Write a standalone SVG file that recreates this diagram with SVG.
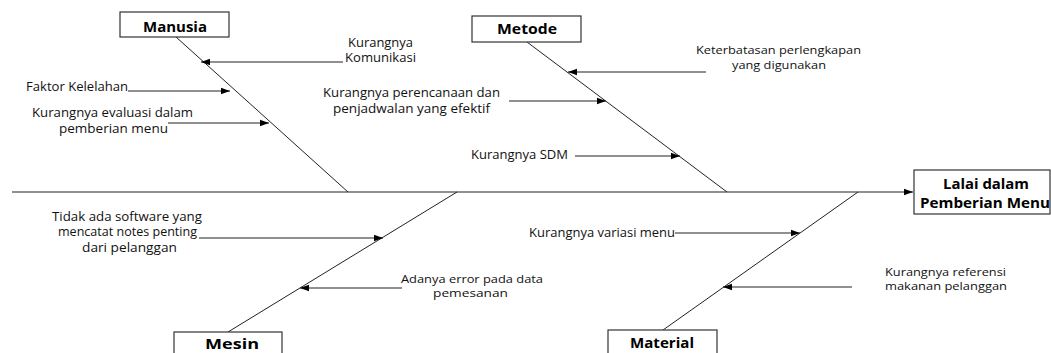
<svg xmlns="http://www.w3.org/2000/svg" width="1051" height="353" viewBox="0 0 1051 353">
  <defs>
    <marker id="arrow" markerUnits="userSpaceOnUse" markerWidth="10" markerHeight="8" refX="9" refY="4" orient="auto">
      <path d="M0,0.8 L9,4 L0,7.2 Z" fill="#000"/>
    </marker>
    <style>
      .box { fill: #fff; stroke: #333; stroke-width: 1.2; }
      .title { font-family: "Open Sans", "Liberation Sans", sans-serif; font-weight: bold; font-size: 14px; fill: #000; text-anchor: middle; }
      .lbl { font-family: "Open Sans", "Liberation Sans", sans-serif; font-size: 12.5px; fill: #111; }
      .tight { font-size: 11.5px; }
      .bone { stroke: #222; stroke-width: 1; fill: none; }
      .cause { stroke: #222; stroke-width: 1.1; fill: none; marker-end: url(#arrow); }
    </style>
  </defs>

  <rect width="1051" height="353" fill="#fff"/>

  <!-- spine and category bones -->
  <g id="connectors">
    <line class="cause" x1="12" y1="192" x2="913" y2="192" stroke-width="1.3"/>
    <line class="bone" x1="176" y1="37" x2="348" y2="192"/>
    <line class="bone" x1="527" y1="42" x2="727" y2="192"/>
    <line class="bone" x1="457" y1="192" x2="228" y2="332"/>
    <line class="bone" x1="858" y1="192" x2="663" y2="330"/>

    <!-- cause arrows -->
    <line class="cause" x1="343" y1="62" x2="201" y2="62"/>
    <line class="cause" x1="128" y1="91" x2="230" y2="91"/>
    <line class="cause" x1="168" y1="123" x2="269" y2="123"/>
    <line class="cause" x1="706" y1="72" x2="568" y2="72"/>
    <line class="cause" x1="509" y1="101" x2="606" y2="101"/>
    <line class="cause" x1="575" y1="156" x2="680" y2="156"/>
    <line class="cause" x1="199" y1="238" x2="383" y2="238"/>
    <line class="cause" x1="402" y1="288" x2="300" y2="288"/>
    <line class="cause" x1="675" y1="233" x2="800" y2="233"/>
    <line class="cause" x1="852" y1="287" x2="723" y2="287"/>
  </g>

  <!-- category boxes -->
  <g id="manusia">
    <rect class="box" x="120" y="12" width="109" height="25"/>
    <text class="title" x="175" y="32" textLength="64" lengthAdjust="spacingAndGlyphs">Manusia</text>
  </g>
  <g id="metode">
    <rect class="box" x="472" y="16" width="109" height="26"/>
    <text class="title" x="527" y="34" textLength="60" lengthAdjust="spacingAndGlyphs">Metode</text>
  </g>
  <g id="mesin">
    <rect class="box" x="174" y="332" width="108" height="30"/>
    <text class="title" x="232" y="348.5" textLength="54" lengthAdjust="spacingAndGlyphs">Mesin</text>
  </g>
  <g id="material">
    <rect class="box" x="608" y="330" width="109" height="30"/>
    <text class="title" x="662" y="348" textLength="64" lengthAdjust="spacingAndGlyphs">Material</text>
  </g>
  <g id="effect">
    <rect class="box" x="914" y="170" width="136" height="44"/>
    <text class="title" x="986" y="189" textLength="86" lengthAdjust="spacingAndGlyphs">Lalai dalam</text>
    <text class="title" x="985" y="208" textLength="130" lengthAdjust="spacingAndGlyphs">Pemberian Menu</text>
  </g>

  <!-- cause labels -->
  <g id="label-komunikasi">
    <text class="lbl" x="348" y="46.5" textLength="65" lengthAdjust="spacingAndGlyphs">Kurangnya</text>
    <text class="lbl" x="345" y="61.5" textLength="71" lengthAdjust="spacingAndGlyphs">Komunikasi</text>
  </g>
  <g id="label-kelelahan">
    <text class="lbl" x="26" y="90.5" textLength="102" lengthAdjust="spacingAndGlyphs">Faktor Kelelahan</text>
  </g>
  <g id="label-evaluasi">
    <text class="lbl" x="32" y="116.5" textLength="161" lengthAdjust="spacingAndGlyphs">Kurangnya evaluasi dalam</text>
    <text class="lbl" x="59" y="132.5" textLength="109" lengthAdjust="spacingAndGlyphs">pemberian menu</text>
  </g>
  <g id="label-keterbatasan">
    <text class="lbl tight" x="696" y="54" textLength="165" lengthAdjust="spacingAndGlyphs">Keterbatasan perlengkapan</text>
    <text class="lbl tight" x="732" y="68.5" textLength="94" lengthAdjust="spacingAndGlyphs">yang digunakan</text>
  </g>
  <g id="label-perencanaan">
    <text class="lbl" x="323" y="96.5" textLength="177" lengthAdjust="spacingAndGlyphs">Kurangnya perencanaan dan</text>
    <text class="lbl" x="333" y="112.5" textLength="157" lengthAdjust="spacingAndGlyphs">penjadwalan yang efektif</text>
  </g>
  <g id="label-sdm">
    <text class="lbl" x="471" y="158.5" textLength="97" lengthAdjust="spacingAndGlyphs">Kurangnya SDM</text>
  </g>
  <g id="label-software">
    <text class="lbl" x="52" y="220.5" textLength="150" lengthAdjust="spacingAndGlyphs">Tidak ada software yang</text>
    <text class="lbl" x="58" y="235.5" textLength="139" lengthAdjust="spacingAndGlyphs">mencatat notes penting</text>
    <text class="lbl" x="82" y="251.5" textLength="95" lengthAdjust="spacingAndGlyphs">dari pelanggan</text>
  </g>
  <g id="label-error">
    <text class="lbl tight" x="401" y="283" textLength="142" lengthAdjust="spacingAndGlyphs">Adanya error pada data</text>
    <text class="lbl tight" x="433" y="296.5" textLength="75" lengthAdjust="spacingAndGlyphs">pemesanan</text>
  </g>
  <g id="label-variasi">
    <text class="lbl" x="529" y="236.5" textLength="146" lengthAdjust="spacingAndGlyphs">Kurangnya variasi menu</text>
  </g>
  <g id="label-referensi">
    <text class="lbl tight" x="885" y="276" textLength="121" lengthAdjust="spacingAndGlyphs">Kurangnya referensi</text>
    <text class="lbl tight" x="885" y="289.5" textLength="122" lengthAdjust="spacingAndGlyphs">makanan pelanggan</text>
  </g>
</svg>
